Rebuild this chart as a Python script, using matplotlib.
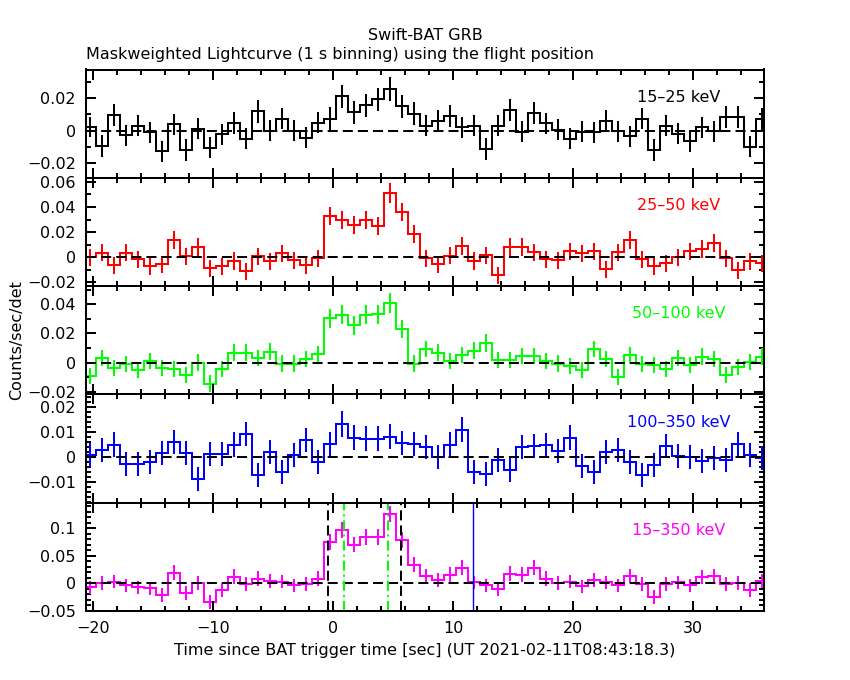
import numpy as np
import matplotlib
matplotlib.use("Agg")
import matplotlib.pyplot as plt
from matplotlib.ticker import MultipleLocator, FuncFormatter

# --- data: 1 s bins, first bin centre at t0 ---------------------------
t0 = -20.3
binsize = 1.0

bands = ["15–25 keV", "25–50 keV", "50–100 keV", "100–350 keV", "15–350 keV"]
colors = ["black", "#ff0000", "#00ff00", "#0000ff", "#ff00ff"]

rate_15_25 = [0.002, -0.0096, 0.0096, -0.003, 0.003, -0.001, -0.013, 0.004, -0.012, 0.0012,
              -0.0106, -0.0023, 0.0046, -0.005, 0.012, 0.0, 0.0075, 0.0, -0.0044, 0.005,
              0.0075, 0.0213, 0.0113, 0.0156, 0.0194, 0.026, 0.0152, 0.0106,
              0.003, 0.006, 0.009, 0.002, 0.003, -0.0113, 0.003, 0.013, -0.0006, 0.011,
              0.0046, 0.0006, -0.005, -0.0006, -0.001, 0.006, -0.0004, -0.0035, 0.0075, -0.012,
              0.003, -0.002, -0.0065, 0.002, -0.0004, 0.0085, 0.0085, -0.010, 0.007]
rate_25_50 = [0.0, 0.0035, -0.0064, 0.0035, -0.0016, -0.0072, -0.0056, 0.0136, 0.0008, 0.008,
              -0.0088, -0.0072, -0.003, -0.0112, 0.0008, -0.0032, 0.0032, -0.0024, -0.0064, -0.0008,
              0.0328, 0.0296, 0.0256, 0.0296, 0.0248, 0.0512, 0.036, 0.0184,
              -0.0008, -0.0056, 0.001, 0.0088, -0.003, 0.0016, -0.0144, 0.008, 0.008, 0.004,
              -0.0016, -0.0024, 0.0048, 0.0032, 0.0048, -0.0096, 0.004, 0.0136, -0.0016, -0.0072,
              -0.0048, 0.0, 0.0048, 0.0064, 0.0112, -0.0008, -0.0104, -0.0032, -0.0048]
rate_50_100 = [-0.009, 0.0032, -0.0036, -0.0009, -0.005, 0.0011, -0.0036, -0.0043, -0.0084, 0.0,
               -0.0145, -0.0043, 0.0066, 0.0066, 0.0032, 0.0075, -0.0007, -0.0007, 0.0025, 0.0059,
               0.0304, 0.0327, 0.0256, 0.0327, 0.0331, 0.0406, 0.0229, -0.0009,
               0.0093, 0.0068, 0.0011, 0.0052, 0.008, 0.0134, 0.0018, 0.0018, 0.0045, 0.0045,
               0.0011, -0.0007, -0.0023, -0.005, 0.0093, 0.0025, -0.0098, 0.0052, -0.0009, -0.0016,
               -0.0043, 0.0032, -0.0016, 0.0039, 0.0025, -0.0084, -0.003, 0.0005, 0.0039]
rate_100_350 = [0.0008, 0.0028, 0.0049, -0.0028, -0.0028, -0.002, 0.0017, 0.006, 0.0017, -0.0088,
                0.0012, 0.0012, 0.0049, 0.0092, -0.0072, 0.002, -0.006, 0.0008, 0.0068, -0.002,
                0.0052, 0.0132, 0.0076, 0.0072, 0.0072, 0.008, 0.0056, 0.0052,
                0.004, 0.0, 0.0049, 0.0108, -0.006, -0.0068, -0.0012, -0.0052, 0.004, 0.0044,
                0.0048, 0.0024, 0.0076, -0.0036, -0.006, 0.002, 0.0028, -0.002, -0.0072, -0.0032,
                0.0044, 0.0004, 0.0, -0.0016, -0.0004, -0.0012, 0.0052, 0.0008, -0.0003]
rate_15_350 = [-0.0072, 0.0, 0.0036, -0.0036, -0.0072, -0.009, -0.0216, 0.0198, -0.018, 0.0,
               -0.0342, -0.0126, 0.0126, -0.0018, 0.009, 0.0054, 0.0036, -0.0036, -0.0018, 0.009,
               0.0755, 0.0971, 0.0701, 0.0845, 0.0845, 0.1259, 0.0791, 0.0342,
               0.0144, 0.0072, 0.0162, 0.0288, 0.0018, -0.0036, -0.0108, 0.018, 0.0162, 0.0288,
               0.009, 0.0, 0.0036, -0.0054, 0.0072, 0.0018, -0.0036, 0.0144, -0.0018, -0.0252,
               -0.0018, 0.0018, -0.0036, 0.012, 0.0144, -0.0018, 0.0, -0.0126, 0.0054]

err_15_25 = [0.0063, 0.0066, 0.007, 0.0066, 0.0065, 0.0066, 0.0068, 0.0066, 0.0067, 0.0066,
             0.0067, 0.0066, 0.0067, 0.0066, 0.007, 0.0067, 0.0068, 0.0066, 0.0067, 0.0068,
             0.0069, 0.0071, 0.007, 0.0071, 0.0072, 0.0075, 0.0072, 0.007,
             0.0066, 0.0067, 0.0068, 0.0066, 0.0066, 0.0068, 0.0066, 0.0068, 0.0066, 0.0068,
             0.0066, 0.0066, 0.0067, 0.0066, 0.0066, 0.0067, 0.0066, 0.0066, 0.0068, 0.0067,
             0.0066, 0.0066, 0.0067, 0.0066, 0.0066, 0.0067, 0.0067, 0.0067, 0.0068]
err_25_50 = [0.0067, 0.0068, 0.0068, 0.0068, 0.0068, 0.0069, 0.0068, 0.0071, 0.0068, 0.007,
             0.0068, 0.0068, 0.0068, 0.0069, 0.0068, 0.0068, 0.0068, 0.0068, 0.0068, 0.0068,
             0.0074, 0.0073, 0.0072, 0.0073, 0.0072, 0.0077, 0.0074, 0.0071,
             0.0068, 0.0068, 0.0068, 0.007, 0.0068, 0.0068, 0.0069, 0.007, 0.007, 0.0069,
             0.0068, 0.0068, 0.0069, 0.0069, 0.0069, 0.0068, 0.0069, 0.0071, 0.0068, 0.0068,
             0.0068, 0.0068, 0.0069, 0.0069, 0.007, 0.0068, 0.0068, 0.0068, 0.0068]
err_50_100 = [0.0055, 0.0057, 0.0057, 0.0057, 0.0057, 0.0057, 0.0057, 0.0057, 0.0057, 0.0057,
              0.0058, 0.0057, 0.0058, 0.0058, 0.0057, 0.0058, 0.0057, 0.0057, 0.0057, 0.0058,
              0.0065, 0.0066, 0.0064, 0.0066, 0.0066, 0.0069, 0.0063, 0.0058,
              0.0058, 0.0058, 0.0057, 0.0058, 0.0058, 0.006, 0.0057, 0.0057, 0.0058, 0.0058,
              0.0057, 0.0057, 0.0057, 0.0057, 0.0058, 0.0057, 0.0057, 0.0058, 0.0057, 0.0057,
              0.0057, 0.0057, 0.0057, 0.0058, 0.0057, 0.0057, 0.0057, 0.0057, 0.0058]
err_100_350 = [0.0049, 0.0049, 0.0049, 0.0048, 0.0048, 0.0048, 0.0048, 0.0049, 0.0048, 0.0048,
               0.0048, 0.0048, 0.0049, 0.0049, 0.0048, 0.0048, 0.0048, 0.0048, 0.0049, 0.0048,
               0.0049, 0.0051, 0.005, 0.005, 0.005, 0.005, 0.0049, 0.0049,
               0.0049, 0.0048, 0.0049, 0.005, 0.0048, 0.0048, 0.0048, 0.0048, 0.0049, 0.0049,
               0.0049, 0.0048, 0.005, 0.0048, 0.0048, 0.0048, 0.0049, 0.0048, 0.0048, 0.0048,
               0.0049, 0.0048, 0.0048, 0.0048, 0.0048, 0.0048, 0.0049, 0.0048, 0.0048]
err_15_350 = [0.0126, 0.0127, 0.0127, 0.0126, 0.0126, 0.0126, 0.0127, 0.013, 0.0126, 0.0127,
              0.0126, 0.0126, 0.0129, 0.0127, 0.0128, 0.0127, 0.0127, 0.0126, 0.0127, 0.0128,
              0.0138, 0.0141, 0.0137, 0.0139, 0.0139, 0.0145, 0.0138, 0.0132,
              0.0128, 0.0127, 0.0129, 0.013, 0.0127, 0.0126, 0.0126, 0.0129, 0.0129, 0.013,
              0.0128, 0.0127, 0.0127, 0.0126, 0.0127, 0.0127, 0.0126, 0.0128, 0.0127, 0.0126,
              0.0127, 0.0127, 0.0126, 0.0128, 0.0128, 0.0127, 0.0127, 0.0126, 0.0127]

rates = [rate_15_25, rate_25_50, rate_50_100, rate_100_350, rate_15_350]
errors = [err_15_25, err_25_50, err_50_100, err_100_350, err_15_350]

# y ranges and tick steps (major, minor) per panel
ylims = [(-0.0294, 0.038), (-0.023, 0.0632), (-0.0218, 0.0524), (-0.0182, 0.0249), (-0.05, 0.1468)]
yticks = [(0.02, 0.01), (0.02, 0.01), (0.02, 0.01), (0.01, 0.002), (0.05, 0.01)]

# trigger/interval markers on the bottom panel
t_dashed = [-0.42, 5.67]   # T100 interval
t_dashdot = [0.92, 4.58]   # T90 interval
t_solid = 11.67            # end of the peak search

xlim = (-20.63, 35.92)

plt.rcParams['font.family'] = ['DejaVu Sans']
fs = 11.5
plt.rcParams['font.size'] = fs

fig = plt.figure(figsize=(8.5, 6.8), dpi=100)
left, right = 85.7 / 850, 764.3 / 850
top, bottom = 1 - 69.5 / 680, 1 - 611 / 680
h = (top - bottom) / 5

lw = 1.45
fmt = FuncFormatter(lambda v, p: f"{v:g}".replace("-", "\u2212"))

axes = []
for i in range(5):
    ax = fig.add_axes([left, top - (i + 1) * h, right - left, h])
    axes.append(ax)
    y = np.array(rates[i])
    e = np.array(errors[i])
    t = t0 + binsize * np.arange(len(y))
    edges = np.append(t - binsize / 2, t[-1] + binsize / 2)

    ax.stairs(y, edges, baseline=None, color=colors[i], lw=lw)
    ax.errorbar(t, y, yerr=e, fmt='none', ecolor=colors[i], elinewidth=lw, capsize=0)
    ax.axhline(0, color='black', lw=lw, ls=(0, (5, 2.5)))

    ax.set_xlim(*xlim)
    ax.set_ylim(*ylims[i])
    ax.xaxis.set_major_locator(MultipleLocator(10))
    ax.xaxis.set_minor_locator(MultipleLocator(2))
    ax.yaxis.set_major_locator(MultipleLocator(yticks[i][0]))
    ax.yaxis.set_minor_locator(MultipleLocator(yticks[i][1]))
    ax.yaxis.set_major_formatter(fmt)
    ax.tick_params(which='both', direction='in', top=True, right=True, width=lw, pad=7,
                   labelsize=fs)
    ax.tick_params(which='major', length=7)
    ax.tick_params(which='minor', length=3.5)
    for s in ax.spines.values():
        s.set_linewidth(lw)
    if i < 4:
        ax.tick_params(labelbottom=False)

    ax.text(0.874, 0.745, bands[i], color=colors[i], transform=ax.transAxes,
            ha='center', va='center', fontsize=fs)

# markers on the 15-350 keV panel
ax = axes[4]
for tv in t_dashed:
    ax.axvline(tv, color='black', lw=lw, ls=(0, (5, 2.5)))
for tv in t_dashdot:
    ax.axvline(tv, color='#00ff00', lw=lw, ls=(0, (5, 2, 1, 2)))
ax.axvline(t_solid, color='#0000ff', lw=1.0)
ax.xaxis.set_major_formatter(fmt)

fig.text(0.5, 1 - 35 / 680, "Swift-BAT GRB", ha='center', va='center', fontsize=fs)
fig.text(left, 1 - 54 / 680, "Maskweighted Lightcurve (1 s binning) using the flight position",
         ha='left', va='center', fontsize=fs)
fig.text(0.5, 1 - 650 / 680, "Time since BAT trigger time [sec] (UT 2021-02-11T08:43:18.3)",
         ha='center', va='center', fontsize=fs)
fig.text(17 / 850, 1 - 340 / 680, "Counts/sec/det", rotation=90, ha='center', va='center',
         fontsize=fs)

fig.savefig("out.png", dpi=100)
